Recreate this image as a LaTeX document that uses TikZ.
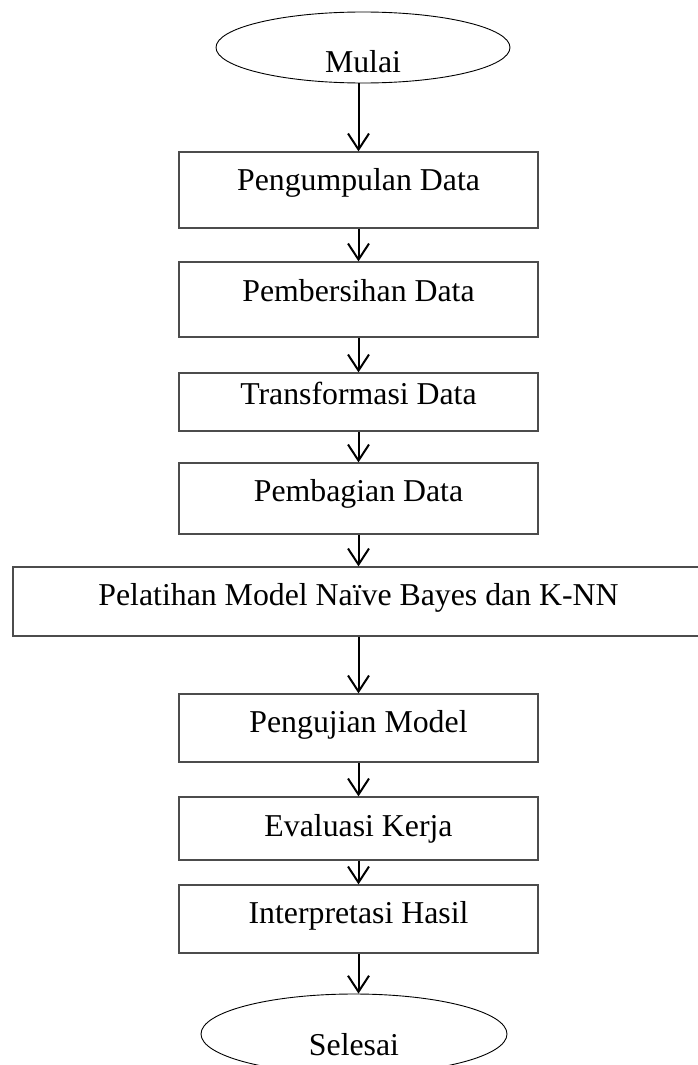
\documentclass[tikz,border=0pt]{standalone}
\usepackage{fontspec}
\setmainfont{Liberation Serif}
\usetikzlibrary{shapes.geometric,arrows.meta}
\begin{document}
\begin{tikzpicture}[x=1pt,y=-1pt,
  box/.style={draw=black!70, line width=1.3pt, rectangle, minimum width=359pt, inner sep=0pt},
  oval/.style={draw=black, line width=0.9pt, ellipse, inner sep=0pt},
  txt/.style={font=\fontsize{31.8}{38}\selectfont, inner sep=0pt, anchor=base},
  arr/.style={-{Straight Barb[length=16pt,width=21pt]}, line width=2pt}]
\useasboundingbox (0,0) rectangle (697,1065);
\node[oval, minimum width=294pt, minimum height=71pt,
      label={[txt, yshift=-14.5pt]center:Mulai}] (start) at (363,47.5) {};
\node[box, minimum height=76pt, label={[txt, yshift=-39pt]north:Pengumpulan Data}] (b1) at (358.5,190) {};
\node[box, minimum height=75pt, label={[txt, yshift=-40pt]north:Pembersihan Data}] (b2) at (358.5,299.5) {};
\node[box, minimum height=58pt, label={[txt, yshift=-32pt]north:Transformasi Data}] (b3) at (358.5,402) {};
\node[box, minimum height=71pt, label={[txt, yshift=-39pt]north:Pembagian Data}] (b4) at (358.5,498.5) {};
\node[box, minimum width=691pt, minimum height=69pt, label={[txt, yshift=-39pt]north:Pelatihan Model Naïve Bayes dan K-NN}] (b5) at (358.5,601.5) {};
\node[box, minimum height=68pt, label={[txt, yshift=-39pt]north:Pengujian Model}] (b6) at (358.5,728) {};
\node[box, minimum height=63pt, label={[txt, yshift=-40pt]north:Evaluasi Kerja}] (b7) at (358.5,828.5) {};
\node[box, minimum height=68pt, label={[txt, yshift=-39pt]north:Interpretasi Hasil}] (b8) at (358.5,919) {};
\node[oval, minimum width=306pt, minimum height=80pt,
      label={[txt, yshift=-11pt]center:Selesai}] (end) at (354,1034) {};
\draw[arr] (b1.north |- start.south) -- (b1.north);
\draw[arr] (b1.south) -- (b2.north);
\draw[arr] (b2.south) -- (b3.north);
\draw[arr] (b3.south) -- (b4.north);
\draw[arr] (b4.south) -- (b5.north);
\draw[arr] (b5.south) -- (b6.north);
\draw[arr] (b6.south) -- (b7.north);
\draw[arr] (b7.south) -- (b8.north);
\draw[arr] (b8.south) -- (b8.south |- end.north);
\end{tikzpicture}
\end{document}
